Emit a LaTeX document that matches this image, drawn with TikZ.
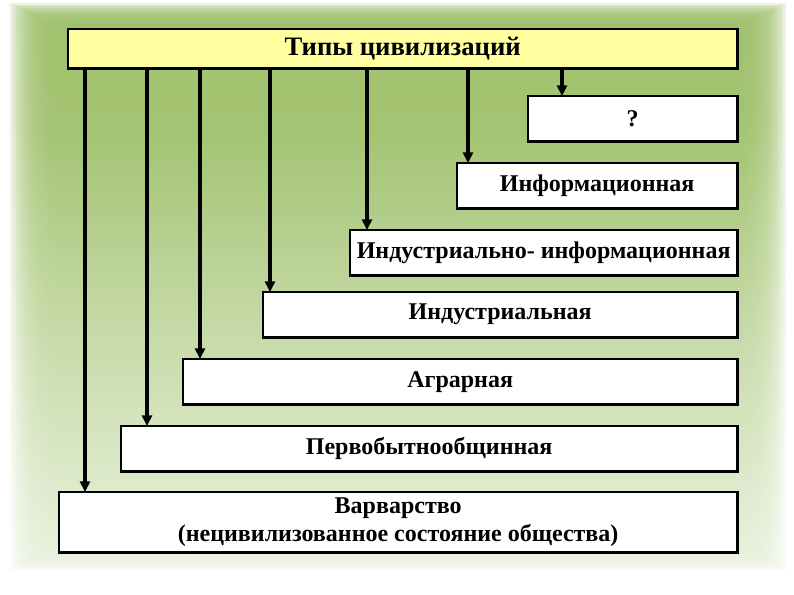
\documentclass[tikz,border=0pt]{standalone}
\usepackage{fontspec}
\setmainfont{Liberation Serif}
\usetikzlibrary{arrows.meta,positioning}
\definecolor{leaf}{RGB}{150,187,94}
\definecolor{titleyellow}{RGB}{255,255,160}
\pgfdeclareverticalshading{backdrop}{100bp}{color(0bp)=(white); color(12bp)=(white);
  color(40bp)=(leaf!45!white); color(65bp)=(leaf!90!white); color(100bp)=(leaf)}

\begin{document}
\begin{tikzpicture}[x=0.75pt,y=-0.75pt,
        box/.style={draw=black, fill=white, line width=2pt, outer sep=0pt,
                    font=\bfseries\fontsize{18}{21}\selectfont, align=center,
                    minimum height=34pt, inner sep=0pt},
        tbox/.style={box, fill=titleyellow, font=\bfseries\fontsize{20}{23}\selectfont,
                     minimum height=29.5pt},
        arr/.style={-{Triangle[length=8pt,width=7.5pt]}, line width=2.6pt}
      ]
        \useasboundingbox (0,0) rectangle (794,595);
        % soft green backdrop
        \foreach \i in {0,...,15}
          \shade[shading=backdrop, fill opacity=0.2]
            (10+3*\i,4+1.5*\i) rectangle (786-3*\i,570-1.5*\i);
        \node[tbox, minimum width=502pt, anchor=north west] (types) at (68,29) {Типы цивилизаций};
        \node[box, minimum width=157pt]    (unknown) [below=20.75pt of types.south east, anchor=north east] {?};
        \node[box, minimum width=210.25pt] (info)    [below=16.25pt of unknown.south east, anchor=north east] {Информационная};
        \node[box, minimum width=290.5pt]  (indinfo) [below=16.25pt of info.south east, anchor=north east] {Индустриально- информационная};
        \node[box, minimum width=355.75pt] (indust)  [below=12.5pt of indinfo.south east, anchor=north east] {Индустриальная};
        \node[box, minimum width=415.75pt] (agrar)   [below=16.25pt of indust.south east, anchor=north east] {Аграрная};
        \node[box, minimum width=462.25pt] (primit)  [below=16.25pt of agrar.south east, anchor=north east] {Первобытнообщинная};
        \node[box, minimum width=508.75pt, minimum height=45.25pt] (barbar) [below=15.5pt of primit.south east, anchor=north east]
          {Варварство\\(нецивилизованное состояние общества)};
        % arrows from the title
        \foreach \n/\dx in {unknown/34, info/11, indinfo/17, indust/7, primit/26, barbar/26}
          \draw[arr] ([xshift=\dx*0.75pt]types.south -| \n.north west) -- ([xshift=\dx*0.75pt]\n.north west);
        \draw[arr, line width=3.4pt] ([xshift=12.75pt]types.south -| agrar.north west) -- ([xshift=12.75pt]agrar.north west);
      \end{tikzpicture}
\end{document}
